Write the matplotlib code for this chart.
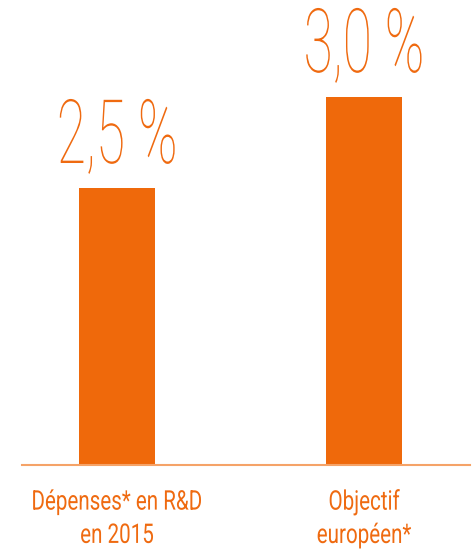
import matplotlib
matplotlib.use("Agg")
import matplotlib.pyplot as plt
from matplotlib.patheffects import AbstractPathEffect
from matplotlib.transforms import Affine2D

categories = ["Dépenses* en R&D\nen 2015", "Objectif\neuropéen*"]
values = [2.5, 3.0]
value_labels = ["2,5 %", "3,0 %"]

BAR_COLOR = "#ef690b"
LINE_COLOR = "#f5a368"
TEXT_COLOR = "#ef6a10"


class Squeeze(AbstractPathEffect):
    # narrow the glyphs horizontally to mimic a condensed face
    def __init__(self, sx):
        super().__init__()
        self.sx = sx

    def draw_path(self, renderer, gc, tpath, affine, rgbFace=None):
        ext = tpath.get_extents()
        cx = (ext.x0 + ext.x1) / 2
        t = Affine2D().translate(-cx, 0).scale(self.sx, 1).translate(cx, 0) + affine
        renderer.draw_path(gc, tpath, t, rgbFace)


fig = plt.figure(figsize=(4.76, 5.5), dpi=100)
ax = fig.add_axes([22 / 476, 1 - 465 / 550, 448 / 476, 465 / 550])

x = list(range(len(values)))
ax.bar(x, values, width=0.308, color=BAR_COLOR)

ax.set_xlim(-0.385, 1.429)
ax.set_ylim(0.978, 3.533)

for xi, v, lab in zip(x, values, value_labels):
    ax.annotate(lab, xy=(xi, v), xytext=(0, 18), textcoords="offset points",
                ha="center", va="baseline", fontsize=64, family="Roboto",
                fontweight="light", color=TEXT_COLOR,
                path_effects=[Squeeze(0.6)])

for xi, cat in zip(x, categories):
    ax.annotate(cat, xy=(xi, 0), xycoords=("data", "axes fraction"),
                xytext=(0, -17), textcoords="offset points",
                ha="center", va="top", fontsize=19.5, family="Roboto",
                color=TEXT_COLOR, linespacing=1.3, annotation_clip=False,
                path_effects=[Squeeze(0.76)])

for side in ["top", "right", "left"]:
    ax.spines[side].set_visible(False)
ax.spines["bottom"].set_color(LINE_COLOR)
ax.spines["bottom"].set_linewidth(1.5)
ax.set_xticks([])
ax.set_yticks([])
ax.patch.set_alpha(0)

fig.savefig("out.png", dpi=100)
